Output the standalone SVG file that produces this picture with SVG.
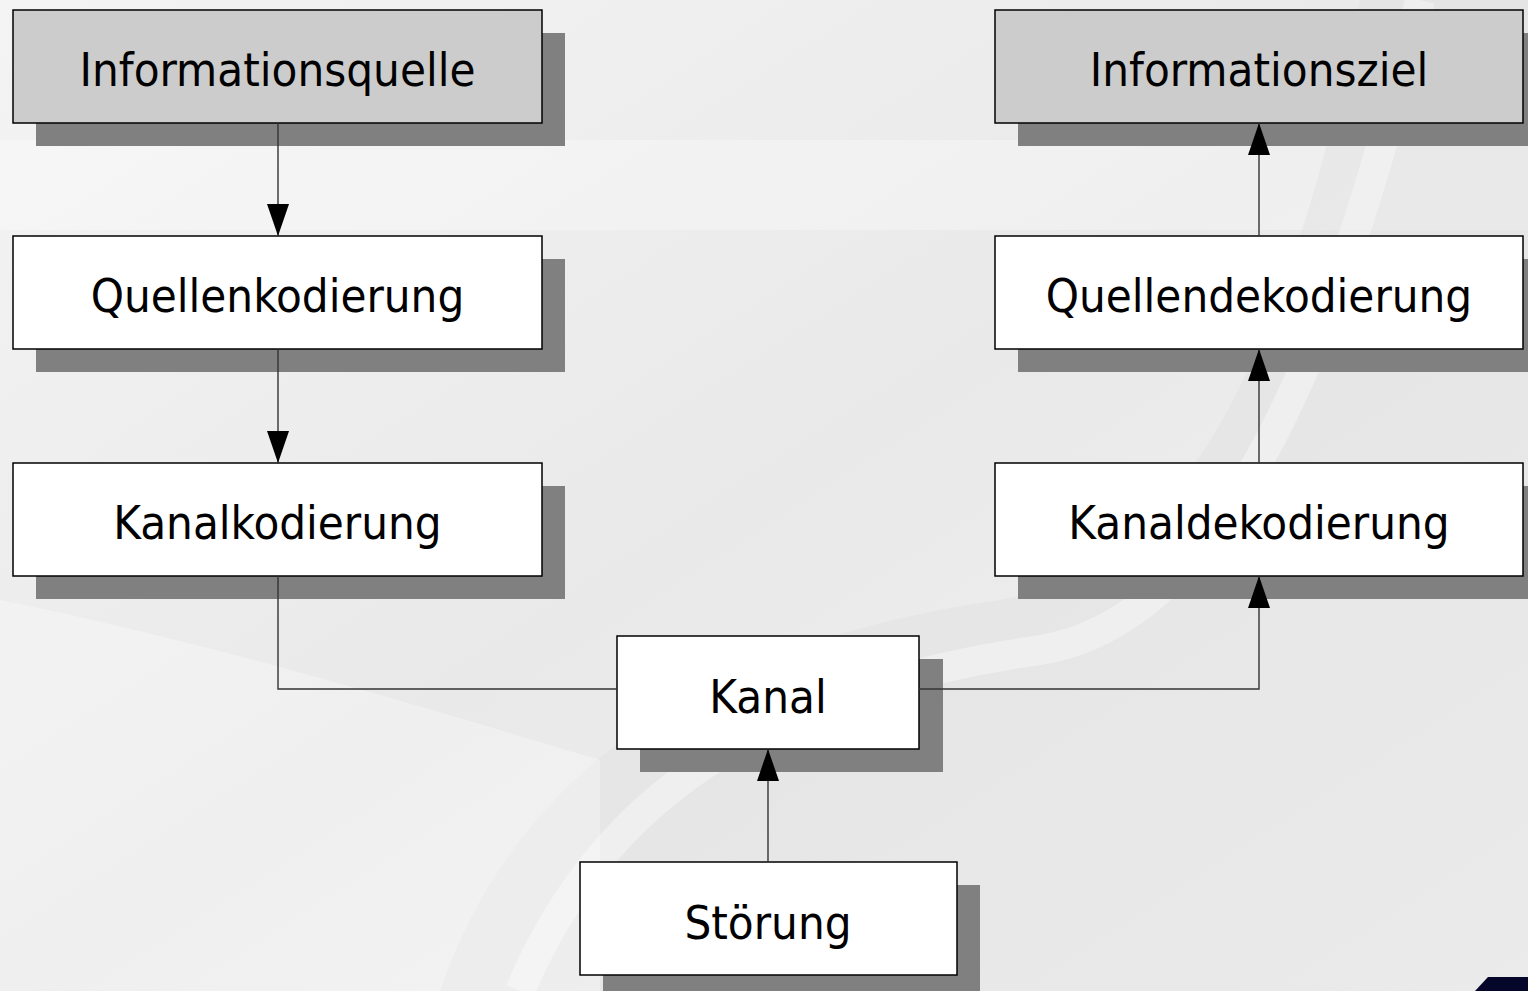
<svg xmlns="http://www.w3.org/2000/svg" width="1528" height="991" viewBox="0 0 1528 991">
<defs>
<style>
.box{stroke:#000;stroke-width:1.5}
.src{fill:#cccccc}
.proc{fill:#ffffff}
.sh{fill:#808080}
.lbl{font-family:"DejaVu Sans Condensed","DejaVu Sans",sans-serif;font-size:47px;fill:#000;text-anchor:middle}
.con{fill:none;stroke:#333;stroke-width:1.4}
</style>
<marker id="ah" markerUnits="userSpaceOnUse" markerWidth="32" markerHeight="22" refX="32" refY="11" orient="auto">
<path d="M0,0 L32,11 L0,22 Z" fill="#000"/>
</marker>
<linearGradient id="bg" x1="0" y1="0" x2="1" y2="1">
<stop offset="0" stop-color="#f4f4f4"/>
<stop offset="0.5" stop-color="#e9e9e9"/>
<stop offset="1" stop-color="#f3f3f3"/>
</linearGradient>
</defs>
<g id="background">
<rect width="1528" height="991" fill="url(#bg)"/>
<path d="M0,140 L1528,140 L1528,230 L0,230 Z" fill="#ffffff" opacity="0.3"/>
<path d="M440,991 C520,760 720,640 1000,600 C1200,570 1300,300 1360,0 L1528,0 L1528,991 Z" fill="#dedede" opacity="0.4"/>
<path d="M520,991 C600,800 760,690 1040,650 C1230,620 1340,330 1420,0" fill="none" stroke="#ffffff" stroke-width="30" opacity="0.35"/>
<path d="M0,600 C200,640 400,700 600,760 L600,991 L0,991 Z" fill="#ffffff" opacity="0.3"/>
<polygon points="1475,991 1488,977 1528,977 1528,991" fill="#06062a"/>
</g>
<g id="n-informationsquelle">
<rect class="sh" x="36" y="33" width="529" height="113"/>
<rect class="box src" x="13" y="10" width="529" height="113"/>
<text class="lbl" x="277.5" y="86">Informationsquelle</text>
</g>
<g id="n-quellenkodierung">
<rect class="sh" x="36" y="259" width="529" height="113"/>
<rect class="box proc" x="13" y="236" width="529" height="113"/>
<text class="lbl" x="277.5" y="312">Quellenkodierung</text>
</g>
<g id="n-kanalkodierung">
<rect class="sh" x="36" y="486" width="529" height="113"/>
<rect class="box proc" x="13" y="463" width="529" height="113"/>
<text class="lbl" x="277.5" y="539">Kanalkodierung</text>
</g>
<g id="n-informationsziel">
<rect class="sh" x="1018" y="33" width="529" height="113"/>
<rect class="box src" x="995" y="10" width="528" height="113"/>
<text class="lbl" x="1259" y="86">Informationsziel</text>
</g>
<g id="n-quellendekodierung">
<rect class="sh" x="1018" y="259" width="529" height="113"/>
<rect class="box proc" x="995" y="236" width="528" height="113"/>
<text class="lbl" x="1259" y="312">Quellendekodierung</text>
</g>
<g id="n-kanaldekodierung">
<rect class="sh" x="1018" y="486" width="529" height="113"/>
<rect class="box proc" x="995" y="463" width="528" height="113"/>
<text class="lbl" x="1259" y="539">Kanaldekodierung</text>
</g>
<g id="n-kanal">
<rect class="sh" x="640" y="659" width="303" height="113"/>
<rect class="box proc" x="617" y="636" width="302" height="113"/>
<text class="lbl" x="768" y="713">Kanal</text>
</g>
<g id="n-stoerung">
<rect class="sh" x="603" y="885" width="377" height="113"/>
<rect class="box proc" x="580" y="862" width="377" height="113"/>
<text class="lbl" x="768" y="939">Störung</text>
</g>
<g id="connectors">
<path class="con" d="M278,123 L278,236" marker-end="url(#ah)"/>
<path class="con" d="M278,349 L278,463" marker-end="url(#ah)"/>
<path class="con" d="M278,576 L278,689 L617,689"/>
<path class="con" d="M919,689 L1259,689 L1259,576" marker-end="url(#ah)"/>
<path class="con" d="M1259,463 L1259,349" marker-end="url(#ah)"/>
<path class="con" d="M1259,236 L1259,123" marker-end="url(#ah)"/>
<path class="con" d="M768,862 L768,749" marker-end="url(#ah)"/>
</g>
</svg>
